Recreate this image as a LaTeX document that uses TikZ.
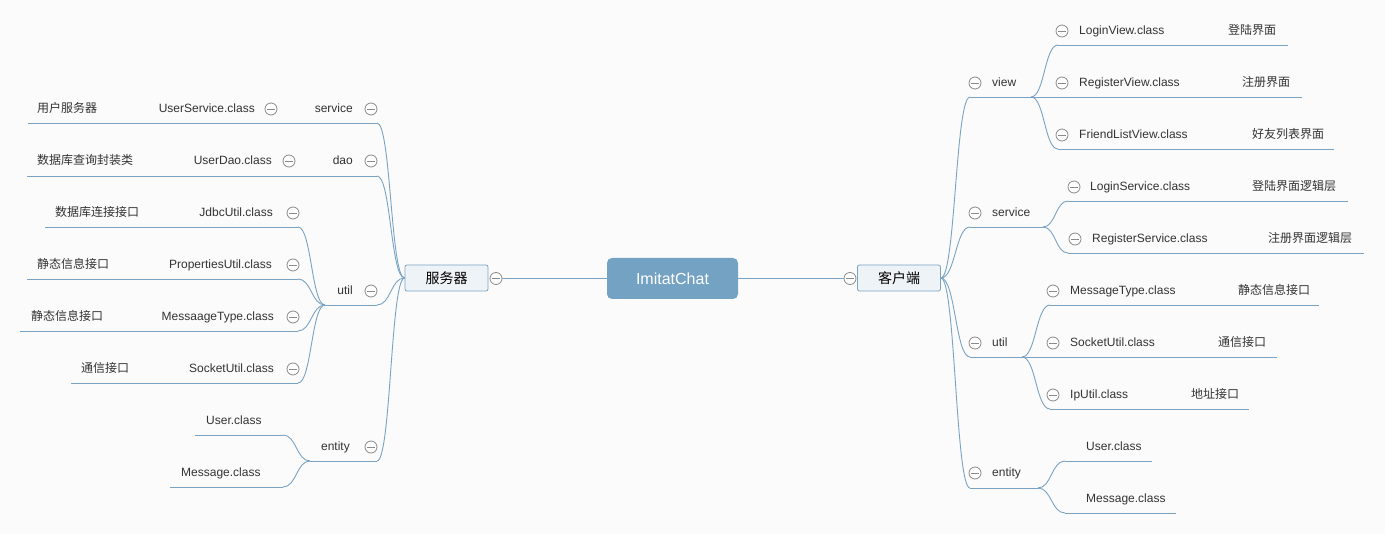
\documentclass[tikz,border=0pt]{standalone}
\usepackage{fontspec}
\setmainfont{Liberation Sans}
\newfontfamily\cjk{Noto Sans CJK SC}
\usetikzlibrary{calc}
\definecolor{lnc}{HTML}{7AA3C3}
\definecolor{bgc}{HTML}{FBFBFB}
\definecolor{txt}{HTML}{333333}
\definecolor{mcg}{HTML}{8A8A8A}
\definecolor{boxfill}{HTML}{EEF3F7}
\definecolor{topfill}{HTML}{74A2C2}
\newcommand{\bend}[3]{\draw[conn] (#1) .. controls ($(#1)+(#3,0)$) and ($(#2)+(-#3,0)$) .. (#2);}
\begin{document}
\begin{tikzpicture}[x=1pt,y=-1pt,
  conn/.style={draw=lnc, line width=0.9pt},
  lt/.style={font=\fontsize{12}{14}\selectfont, text=txt, inner sep=0pt},
  ct/.style={font=\cjk\fontsize{12}{14}\selectfont, text=txt, inner sep=0pt},
  mc/.style={circle, draw=mcg, fill=white, line width=0.8pt, minimum size=12pt, inner sep=0pt,
    path picture={\draw[mcg, line width=0.8pt] ([xshift=-4pt]path picture bounding box.center) -- ([xshift=4pt]path picture bounding box.center);}},
  mainbox/.style={draw=lnc, fill=boxfill, rounded corners=2pt, line width=0.8pt, minimum width=83pt, minimum height=26pt, inner sep=0pt, font=\cjk\fontsize{14}{16}\selectfont, text=black},
  rootbox/.style={fill=topfill, rounded corners=5pt, minimum width=131pt, minimum height=41pt, inner sep=0pt, font=\fontsize{16}{18}\selectfont, text=white}
]
\fill[bgc] (0,0) rectangle (1385,534);
\useasboundingbox (0,0) rectangle (1385,534);

% ---------- center ----------
\node[rootbox] (root) at (672.5,278.5) {ImitatChat};
\node[mainbox] (Lbox) at (446.5,278) {服务器};
\node[mainbox] (Rbox) at (899,278) {客户端};
\node[mc] (Lmc) at (496,278.5) {};
\node[mc] (Rmc) at (850,278.5) {};
\draw[conn] (Lmc.east) -- (root.west);
\draw[conn] (root.east) -- (Rmc.west);

% ---------- left: coordinates ----------
\coordinate (Lsvc-e) at (377,123); \coordinate (Lsvc-w) at (325,123);
\coordinate (Ldao-e) at (377,176); \coordinate (Ldao-w) at (325,176);
\coordinate (Lutl-e) at (377,305); \coordinate (Lutl-w) at (325,305);
\coordinate (Lent-e) at (377,461); \coordinate (Lent-w) at (310,461);
\coordinate (Lus-e) at (325,123); \coordinate (Lus-w) at (28,123);
\coordinate (Lud-e) at (325,176); \coordinate (Lud-w) at (27,176);
\coordinate (Ljd-e) at (298,227); \coordinate (Ljd-w) at (45,227);
\coordinate (Lpu-e) at (298,279); \coordinate (Lpu-w) at (27,279);
\coordinate (Lmt-e) at (298,331); \coordinate (Lmt-w) at (20,331);
\coordinate (Lsu-e) at (298,383); \coordinate (Lsu-w) at (71,383);
\coordinate (Luc-e) at (283,435); \coordinate (Luc-w) at (195,435);
\coordinate (Lmc-e) at (283,487); \coordinate (Lmc-w) at (170,487);

% left curves from box
\bend{Lsvc-e}{Lbox.west}{14}
\bend{Ldao-e}{Lbox.west}{14}
\bend{Lutl-e}{Lbox.west}{14}
\bend{Lent-e}{Lbox.west}{14}
% left underlines
\foreach \n in {Lsvc,Ldao,Lutl,Lent,Lus,Lud,Ljd,Lpu,Lmt,Lsu,Luc,Lmc}
  {\draw[conn] (\n-w) -- (\n-e);}
% util / entity children curves
\bend{Ljd-e}{Lutl-w}{13.5}
\bend{Lpu-e}{Lutl-w}{13.5}
\bend{Lmt-e}{Lutl-w}{13.5}
\bend{Lsu-e}{Lutl-w}{13.5}
\bend{Luc-e}{Lent-w}{13.5}
\bend{Lmc-e}{Lent-w}{13.5}

% left labels
\node[lt, anchor=base east] (tLsvc) at (353,113) {service};
\node[mc] (mLsvc) at (371,109) {};
\node[lt, anchor=base east] (tLus) at (255,113) {UserService.class};
\node[mc] (mLus) at (271,109) {};
\node[ct, anchor=base west] (nLus) at (37,113) {用户服务器};

\node[lt, anchor=base east] (tLdao) at (353,165) {dao};
\node[mc] (mLdao) at (371,161) {};
\node[lt, anchor=base east] (tLud) at (272,165) {UserDao.class};
\node[mc] (mLud) at (289,161) {};
\node[ct, anchor=base west] (nLud) at (37,165) {数据库查询封装类};

\node[lt, anchor=base east] (tLjd) at (273,217) {JdbcUtil.class};
\node[mc] (mLjd) at (293,213) {};
\node[ct, anchor=base west] (nLjd) at (55,217) {数据库连接接口};

\node[lt, anchor=base east] (tLpu) at (272,269) {PropertiesUtil.class};
\node[mc] (mLpu) at (293,265) {};
\node[ct, anchor=base west] (nLpu) at (37,269) {静态信息接口};

\node[lt, anchor=base east] (tLutl) at (353,295) {util};
\node[mc] (mLutl) at (371,291) {};

\node[lt, anchor=base east] (tLmt) at (274,321) {MessaageType.class};
\node[mc] (mLmt) at (293,317) {};
\node[ct, anchor=base west] (nLmt) at (31,321) {静态信息接口};

\node[lt, anchor=base east] (tLsu) at (274,373) {SocketUtil.class};
\node[mc] (mLsu) at (293,369) {};
\node[ct, anchor=base west] (nLsu) at (81,373) {通信接口};

\node[lt, anchor=base east] (tLent) at (350,451) {entity};
\node[mc] (mLent) at (371,447) {};
\node[lt, anchor=base west] (tLuc) at (206,425) {User.class};
\node[lt, anchor=base west] (tLmcl) at (181,477) {Message.class};

% ---------- right: coordinates ----------
\coordinate (Rview-w) at (970,97);  \coordinate (Rview-e) at (1031,97);
\coordinate (Rsvc-w) at (970,227);  \coordinate (Rsvc-e) at (1043,227);
\coordinate (Rutl-w) at (970,357);  \coordinate (Rutl-e) at (1022,357);
\coordinate (Rent-w) at (970,488);  \coordinate (Rent-e) at (1038,488);
\coordinate (Rlv-w) at (1058,45);   \coordinate (Rlv-e) at (1288,45);
\coordinate (Rrv-w) at (1058,97);   \coordinate (Rrv-e) at (1302,97);
\coordinate (Rfv-w) at (1058,149);  \coordinate (Rfv-e) at (1334,149);
\coordinate (Rls-w) at (1068,201);  \coordinate (Rls-e) at (1348,201);
\coordinate (Rrs-w) at (1068,253);  \coordinate (Rrs-e) at (1364,253);
\coordinate (Rmt-w) at (1050,305);  \coordinate (Rmt-e) at (1319,305);
\coordinate (Rsu-w) at (1050,357);  \coordinate (Rsu-e) at (1277,357);
\coordinate (Rip-w) at (1050,409);  \coordinate (Rip-e) at (1249,409);
\coordinate (Ruc-w) at (1065,461);  \coordinate (Ruc-e) at (1152,461);
\coordinate (Rmc-w) at (1065,513);  \coordinate (Rmc-e) at (1176,513);

\bend{Rbox.east}{Rview-w}{14.5}
\bend{Rbox.east}{Rsvc-w}{14.5}
\bend{Rbox.east}{Rutl-w}{14.5}
\bend{Rbox.east}{Rent-w}{14.5}
\foreach \n in {Rview,Rsvc,Rutl,Rent,Rlv,Rrv,Rfv,Rls,Rrs,Rmt,Rsu,Rip,Ruc,Rmc}
  {\draw[conn] (\n-w) -- (\n-e);}
\bend{Rview-e}{Rlv-w}{13.5}
\bend{Rview-e}{Rrv-w}{13.5}
\bend{Rview-e}{Rfv-w}{13.5}
\bend{Rsvc-e}{Rls-w}{12.5}
\bend{Rsvc-e}{Rrs-w}{12.5}
\bend{Rutl-e}{Rmt-w}{14}
\bend{Rutl-e}{Rsu-w}{14}
\bend{Rutl-e}{Rip-w}{14}
\bend{Rent-e}{Ruc-w}{13.5}
\bend{Rent-e}{Rmc-w}{13.5}

% right labels
\node[mc] (mRview) at (975,83) {};
\node[lt, anchor=base west] (tRview) at (992,87) {view};
\node[mc] (mRlv) at (1062,31) {};
\node[lt, anchor=base west] (tRlv) at (1079,35) {LoginView.class};
\node[ct, anchor=base west] (nRlv) at (1228,35) {登陆界面};
\node[mc] (mRrv) at (1062,83) {};
\node[lt, anchor=base west] (tRrv) at (1079,87) {RegisterView.class};
\node[ct, anchor=base west] (nRrv) at (1242,87) {注册界面};
\node[mc] (mRfv) at (1062,135) {};
\node[lt, anchor=base west] (tRfv) at (1079,139) {FriendListView.class};
\node[ct, anchor=base west] (nRfv) at (1252,139) {好友列表界面};

\node[mc] (mRsvc) at (975,213) {};
\node[lt, anchor=base west] (tRsvc) at (992,217) {service};
\node[mc] (mRls) at (1074,187) {};
\node[lt, anchor=base west] (tRls) at (1090,191) {LoginService.class};
\node[ct, anchor=base west] (nRls) at (1252,191) {登陆界面逻辑层};
\node[mc] (mRrs) at (1075,239) {};
\node[lt, anchor=base west] (tRrs) at (1092,243) {RegisterService.class};
\node[ct, anchor=base west] (nRrs) at (1268,243) {注册界面逻辑层};

\node[mc] (mRutl) at (975,343) {};
\node[lt, anchor=base west] (tRutl) at (992,347) {util};
\node[mc] (mRmt) at (1053,291) {};
\node[lt, anchor=base west] (tRmt) at (1070,295) {MessageType.class};
\node[ct, anchor=base west] (nRmt) at (1238,295) {静态信息接口};
\node[mc] (mRsu) at (1053,343) {};
\node[lt, anchor=base west] (tRsu) at (1070,347) {SocketUtil.class};
\node[ct, anchor=base west] (nRsu) at (1218,347) {通信接口};
\node[mc] (mRip) at (1053,395) {};
\node[lt, anchor=base west] (tRip) at (1070,399) {IpUtil.class};
\node[ct, anchor=base west] (nRip) at (1191,399) {地址接口};

\node[mc] (mRent) at (975,473) {};
\node[lt, anchor=base west] (tRent) at (992,477) {entity};
\node[lt, anchor=base west] (tRuc) at (1086,451) {User.class};
\node[lt, anchor=base west] (tRmcl) at (1086,503) {Message.class};
\end{tikzpicture}
\end{document}
